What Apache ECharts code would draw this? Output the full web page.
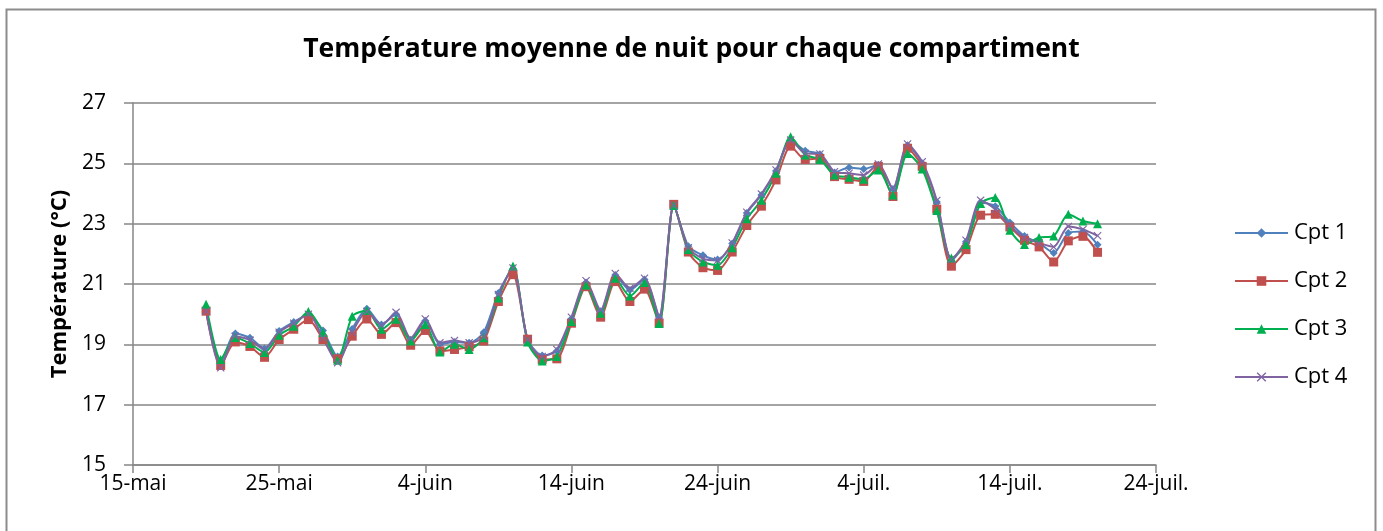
<!DOCTYPE html>
<html>
<head>
<meta charset="utf-8">
<script src="https://cdn.jsdelivr.net/npm/echarts@6/dist/echarts.min.js"></script>
<style>html,body{margin:0;padding:0;background:#fff;}#c{width:1383px;height:531px;}</style>
</head>
<body>
<div id="c"></div>
<script>
// Day offset of first measurement relative to 15-mai (axis origin); one point per day.
const firstDay = 5;
const xTickLabels = ['15-mai','25-mai','4-juin','14-juin','24-juin','4-juil.','14-juil.','24-juil.'];
const seriesNames = ['Cpt 1','Cpt 2','Cpt 3','Cpt 4'];
const cpt1 = [20.1,18.4,19.36,19.22,18.86,19.44,19.74,19.98,19.46,18.6,19.51,20.18,19.66,20.0,19.15,19.78,19.0,19.08,19.05,19.4,20.7,21.5,19.17,18.63,18.78,19.85,21.05,20.1,21.3,20.8,21.15,19.9,23.6,22.25,21.95,21.81,22.34,23.35,23.95,24.75,25.75,25.42,25.3,24.7,24.86,24.81,24.95,24.15,25.6,25.0,23.72,21.78,22.4,23.7,23.58,23.04,22.59,22.36,22.03,22.69,22.74,22.3];
const cpt2 = [20.1,18.3,19.08,18.93,18.57,19.16,19.5,19.82,19.16,18.52,19.27,19.84,19.33,19.72,18.97,19.46,18.78,18.83,18.92,19.11,20.42,21.31,19.17,18.5,18.52,19.7,20.91,19.9,21.08,20.42,20.83,19.71,23.64,22.06,21.54,21.45,22.06,22.94,23.58,24.45,25.57,25.13,25.16,24.56,24.47,24.4,24.9,23.9,25.5,24.9,23.48,21.59,22.14,23.28,23.31,22.89,22.45,22.23,21.73,22.43,22.58,22.05];
const cpt3 = [20.33,18.5,19.23,19.03,18.73,19.3,19.6,20.09,19.39,18.47,19.93,20.12,19.5,19.83,19.11,19.66,18.75,19.0,18.83,19.22,20.54,21.6,19.08,18.45,18.6,19.76,20.97,20.03,21.19,20.6,21.05,19.69,23.6,22.14,21.73,21.62,22.2,23.16,23.78,24.67,25.88,25.28,25.13,24.61,24.54,24.47,24.78,23.95,25.33,24.81,23.44,21.86,22.31,23.67,23.87,22.78,22.31,22.54,22.59,23.31,23.09,23.0];
const cpt4 = [20.1,18.22,19.27,19.14,18.83,19.4,19.7,20.0,19.22,18.39,19.4,20.09,19.63,20.06,19.2,19.84,19.05,19.13,19.05,19.25,20.65,21.53,19.15,18.6,18.83,19.9,21.11,20.14,21.35,20.86,21.19,19.93,23.6,22.2,21.84,21.78,22.36,23.38,23.98,24.78,25.77,25.33,25.31,24.72,24.67,24.61,24.98,24.17,25.64,25.05,23.77,21.81,22.45,23.78,23.48,22.93,22.54,22.36,22.23,22.91,22.81,22.6];

const colors = ['#4F81BD','#C0504D','#00B050','#8064A2'];
const symbols = ['diamond','rect','triangle','path://M0,1L1,0L5,4L9,0L10,1L6,5L10,9L9,10L5,6L1,10L0,9L4,5Z'];
const symbolSizes = [8,9,9,8];
const FONT = 'Open Sans';

function pairs(arr){ return arr.map((v,i)=>[firstDay+i, v]); }

const chart = echarts.init(document.getElementById('c'), null, {renderer:'canvas'});
chart.setOption({
  animation:false,
  backgroundColor:'#fff',
  textStyle:{fontFamily:FONT},
  title:{
    text:'Température moyenne de nuit pour chaque compartiment',
    left:'center', top:31,
    textStyle:{fontFamily:FONT,fontSize:26.5,fontWeight:'bold',color:'#000'}
  },
  graphic:[{type:'rect',shape:{x:6.5,y:9.5,width:1369,height:600},style:{fill:'none',stroke:'#8C8C8C',lineWidth:2},silent:true,z:-1}],
  legend:{
    orient:'vertical', left:1234, top:222, padding:0,
    itemWidth:53, itemHeight:12, itemGap:26,
    textStyle:{fontFamily:FONT,fontSize:22,color:'#000',padding:[0,0,0,1]},
    data:seriesNames
  },
  grid:{left:133,top:103,right:227,bottom:66,containLabel:false},
  xAxis:{
    type:'value', min:0, max:70, interval:10,
    axisLine:{show:true,lineStyle:{color:'#868686',width:1.5}},
    axisTick:{show:true,length:8,lineStyle:{color:'#868686',width:1.5}},
    axisLabel:{fontFamily:FONT,fontSize:21,color:'#000',margin:9,
      formatter:v=>xTickLabels[Math.round(v/10)]},
    splitLine:{show:false}
  },
  yAxis:{
    type:'value', min:15, max:27, interval:2,
    name:'Température (°C)', nameLocation:'middle', nameGap:60,
    nameTextStyle:{fontFamily:FONT,fontSize:22,fontWeight:'bold',color:'#000'},
    axisLine:{show:true,lineStyle:{color:'#868686',width:1.5}},
    axisTick:{show:true,length:9,lineStyle:{color:'#868686',width:1.5}},
    axisLabel:{fontFamily:FONT,fontSize:21,color:'#000',margin:27},
    splitLine:{show:true,lineStyle:{color:'#868686',width:1.5}}
  },
  series:[cpt1,cpt2,cpt3,cpt4].map((arr,i)=>({
    name:seriesNames[i], type:'line', data:pairs(arr),
    smooth:0.25, symbol:symbols[i], symbolSize:symbolSizes[i], showSymbol:true,
    lineStyle:{color:colors[i],width:2},
    itemStyle:{color:colors[i],borderWidth:0}
  }))
});
</script>
</body>
</html>
